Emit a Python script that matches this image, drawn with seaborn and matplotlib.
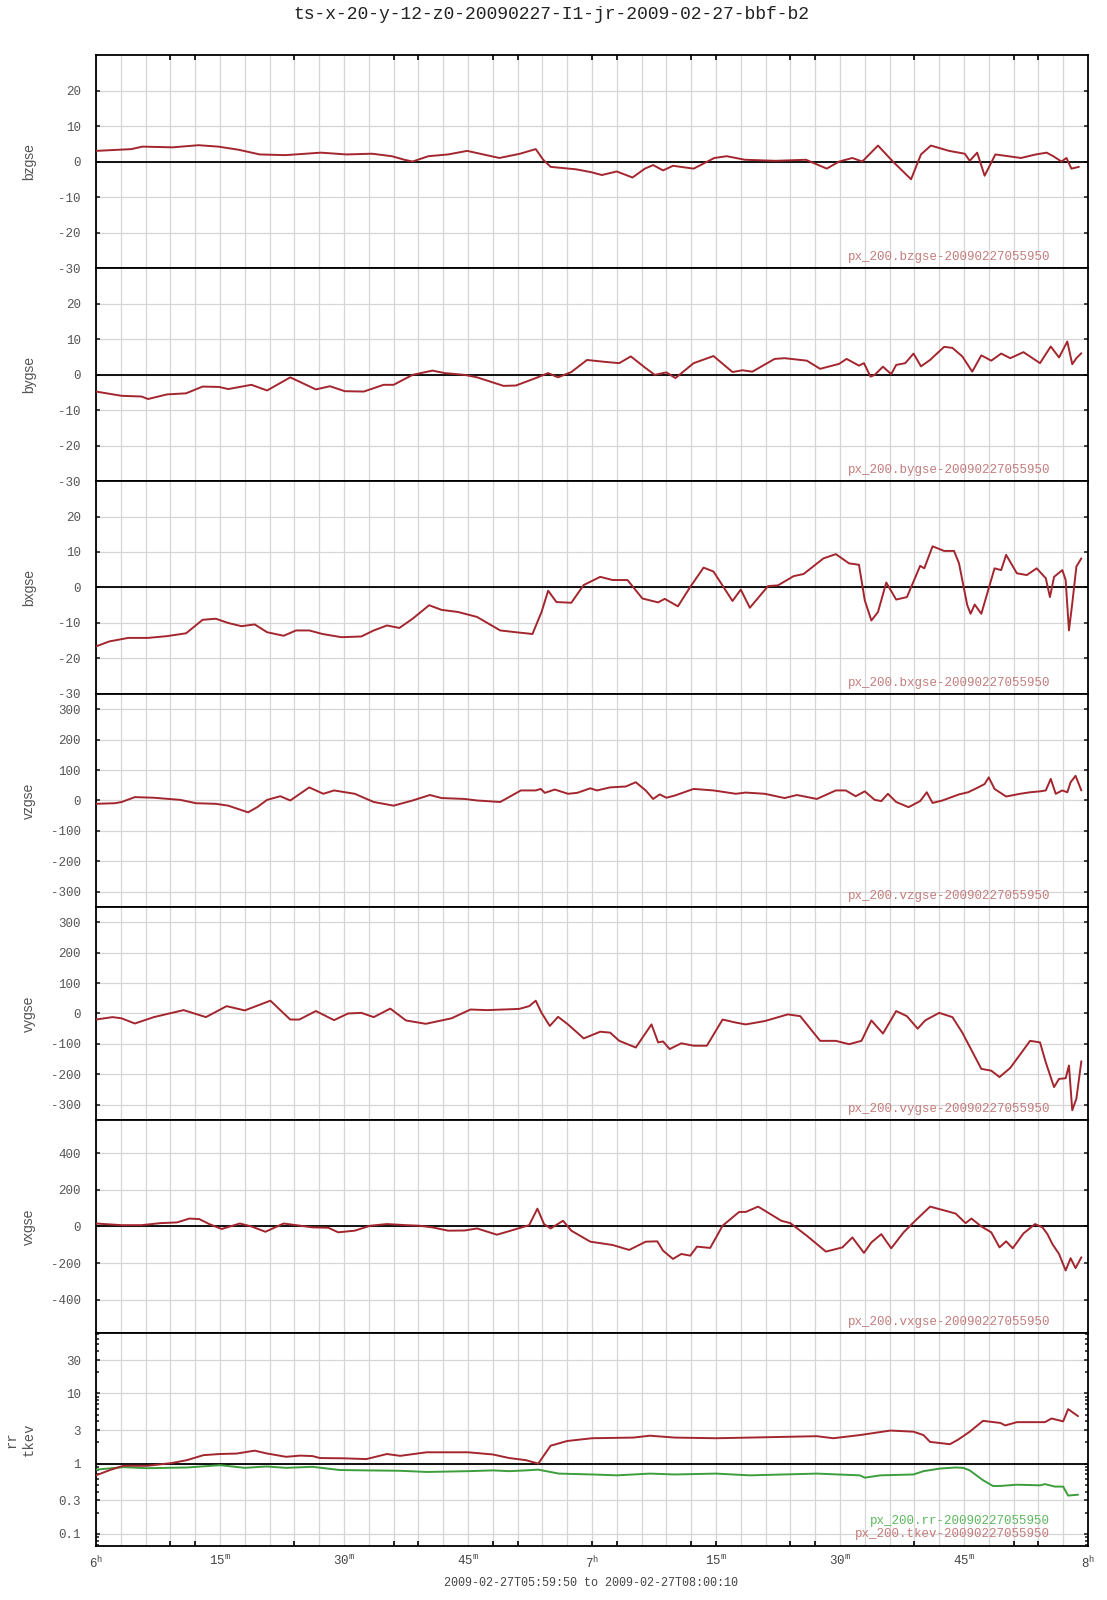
from __future__ import annotations

import matplotlib

matplotlib.use("Agg")
import matplotlib.pyplot as plt
import pandas as pd
import seaborn as sns
from matplotlib.ticker import FixedLocator, LogLocator, MultipleLocator, NullFormatter

# time axis: minutes after 06:00 UT
BZ_T = [0, 4.3, 5.6, 9.3, 12.4, 14.8, 17.3, 19.8, 22.9, 27.2, 30.3, 33.4, 35.8, 37.3, 38.3, 40.2,
        42.6, 44.9, 48.8, 51.3, 53.2, 54.1, 55.0, 58.1, 59.9, 61.2, 63.0, 64.9, 66.4, 67.4, 68.6,
        69.8, 72.3, 74.8, 76.3, 78.5, 82.2, 85.9, 88.4, 89.9, 91.5, 92.7, 94.6, 96.4, 98.6, 99.8,
        101.0, 103.2, 105.1, 105.7, 106.6, 107.5, 108.8, 111.9, 113.7, 115.0, 115.8, 116.8, 117.4,
        118.0, 118.9]
BZ_V = [3.0, 3.5, 4.2, 4.0, 4.6, 4.2, 3.3, 2.0, 1.8, 2.5, 2.0, 2.2, 1.5, 0.5, 0.0, 1.5,
        2.0, 3.0, 1.0, 2.2, 3.5, 0.5, -1.5, -2.2, -3.0, -3.8, -2.8, -4.5, -2.0, -1.0, -2.5,
        -1.2, -2.0, 1.0, 1.5, 0.5, 0.2, 0.5, -2.0, 0.0, 1.0, 0.0, 4.5, 0.0, -5.0, 2.0,
        4.5, 3.0, 2.2, 0.2, 2.5, -4.0, 2.0, 1.0, 2.0, 2.5, 1.5, 0.0, 1.0,
        -2.0, -1.5]

BY_T = [0, 3.1, 5.5, 6.3, 8.6, 10.9, 12.9, 14.9, 16.0, 18.8, 20.7, 23.5, 26.6, 28.3, 30.1,
        32.4, 34.8, 36.0, 38.3, 40.7, 42.2, 44.6, 46.1, 49.3, 50.8, 53.2, 54.7, 55.9, 57.5, 59.4,
        61.4, 63.3, 64.7, 66.5, 67.6, 69.0, 70.1, 72.3, 74.7, 77.0, 78.2, 79.4, 82.1, 83.3, 86.0,
        87.6, 89.9, 90.8, 92.3, 92.9, 93.7, 94.2, 95.2, 96.2, 96.8, 97.9, 98.9, 99.8, 100.9, 102.6,
        103.6, 104.8, 106.0, 107.1, 108.3, 109.5, 110.6, 112.2, 114.2, 115.5, 116.5, 117.5, 118.1,
        118.6, 119.2]
BY_V = [-4.8, -6.0, -6.2, -6.9, -5.6, -5.3, -3.4, -3.5, -4.1, -2.9, -4.5, -0.8, -4.2, -3.3, -4.7,
        -4.8, -2.9, -2.9, -0.1, 1.1, 0.4, -0.1, -0.8, -3.2, -3.1, -1.0, 0.4, -0.8, 0.7, 4.1,
        3.6, 3.2, 5.1, 1.8, -0.1, 0.6, -1.0, 3.2, 5.2, 0.7, 1.2, 0.8, 4.4, 4.6, 3.9,
        1.6, 3.0, 4.4, 2.5, 3.2, -0.6, -0.1, 2.2, 0.1, 2.7, 3.2, 5.9, 2.3, 4.1, 7.8,
        7.5, 5.1, 0.8, 5.4, 3.9, 5.9, 4.6, 6.3, 3.2, 7.9, 4.8, 9.3, 2.9,
        4.6, 6.0]

BX_T = [0, 1.6, 3.9, 6.3, 8.6, 10.9, 12.9, 14.5, 16.0, 17.6, 19.2, 20.7, 22.7, 24.2, 25.8,
        27.4, 29.7, 32.1, 33.6, 35.2, 36.7, 38.3, 40.3, 41.8, 43.8, 46.1, 48.9, 50.8, 52.8, 53.9,
        54.7, 55.7, 57.5, 59.0, 61.0, 62.5, 64.3, 66.1, 68.0, 68.8, 70.4, 71.9, 73.5, 74.7, 77.0,
        78.0, 79.1, 81.3, 82.5, 84.4, 85.6, 88.0, 89.5, 91.1, 92.3, 93.0, 93.8, 94.6, 95.6, 96.8,
        98.1, 99.7, 100.2, 101.2, 102.6, 103.8, 104.4, 105.4, 105.8, 106.3, 107.1, 108.7, 109.5,
        110.1, 111.4, 112.6, 113.8, 114.9, 115.4, 115.9, 116.9, 117.3, 117.7, 118.1, 118.6, 119.2]
BX_V = [-16.6, -15.2, -14.2, -14.2, -13.7, -12.9, -9.1, -8.8, -10.0, -10.9, -10.4, -12.6, -13.6,
        -12.1, -12.1, -13.1, -14.0, -13.8, -12.1, -10.7, -11.4, -8.8, -5.0, -6.3, -6.9, -8.3,
        -12.1, -12.6, -13.1, -6.9, -0.9, -4.1, -4.3, 0.7, 3.0, 2.1, 2.1, -3.1, -4.2, -3.2, -5.3,
        0.2, 5.6, 4.5, -3.8, -0.6, -5.7, 0.4, 0.6, 3.2, 3.8, 8.2, 9.4, 6.8, 6.4, -3.6, -9.3,
        -6.9, 1.4, -3.4, -2.7, 6.1, 5.4, 11.6, 10.3, 10.3, 6.8, -5.0, -7.4, -4.8, -7.4, 5.4,
        4.9, 9.2, 4.0, 3.5, 5.4, 2.6, -2.7, 3.0, 4.9, 2.1, -12.1, -4.5, 5.9, 8.2]

VZ_T = [0, 2.3, 3.1, 4.7, 7.0, 10.2, 12.1, 14.5, 16.0, 18.4, 19.5, 20.7, 22.3, 23.5, 25.8,
        27.5, 28.8, 31.3, 33.6, 36.0, 38.3, 40.4, 41.8, 44.6, 46.1, 48.9, 51.4, 53.2, 53.8, 54.3,
        55.5, 57.1, 58.2, 59.8, 60.6, 62.2, 64.1, 65.3, 66.5, 67.4, 68.2, 69.0, 70.0, 72.3, 74.7,
        77.4, 78.6, 80.9, 83.3, 84.8, 87.2, 89.5, 90.7, 91.9, 93.0, 94.2, 95.0, 95.8, 96.8, 98.3,
        99.7, 100.5, 101.2, 102.4, 104.4, 105.5, 106.5, 107.5, 108.0, 108.7, 110.1, 111.8, 113.0,
        114.2, 114.9, 115.5, 116.1, 116.9, 117.5, 117.9, 118.5, 119.2]
VZ_V = [-11, -9, -5, 11, 9, 2, -9, -11, -17, -39, -22, 2, 14, 0, 43,
        22, 33, 22, -5, -17, 0, 18, 8, 5, 0, -5, 33, 33, 38, 25,
        36, 22, 25, 40, 33, 43, 46, 60, 33, 5, 20, 9, 16, 38, 33,
        22, 26, 22, 8, 18, 5, 33, 33, 14, 30, 2, -2, 22, -5, -22,
        -2, 27, -8, 0, 20, 27, 40, 54, 76, 38, 13, 22, 27,
        30, 33, 71, 22, 33, 27, 60, 81, 33]

VY_T = [0, 2.0, 3.1, 4.7, 7.0, 10.6, 13.3, 15.8, 18.0, 21.1, 23.5, 24.6, 26.6, 28.8, 30.5,
        32.1, 33.6, 35.6, 37.5, 39.9, 43.0, 45.3, 47.3, 51.2, 52.4, 53.2, 53.9, 54.9, 55.9, 57.1,
        59.0, 61.0, 62.2, 63.3, 65.3, 67.2, 68.0, 68.6, 69.4, 70.8, 72.3, 73.9, 75.8, 77.4, 78.6,
        80.9, 83.7, 85.2, 87.6, 89.5, 91.1, 92.6, 93.8, 95.2, 96.8, 98.1, 99.4, 100.3, 102.0,
        103.6, 104.8, 107.1, 108.3, 109.3, 110.6, 113.0, 114.2, 114.9, 115.9, 116.5, 117.3, 117.7,
        118.1, 118.6, 119.2]
VY_V = [-20, -12, -16, -33, -12, 11, -12, 24, 10, 42, -20, -20, 8, -22, 0,
        2, -12, 16, -23, -34, -16, 13, 11, 15, 24, 42, 2, -41, -11, -36,
        -82, -60, -63, -90, -112, -36, -95, -92, -117, -98, -106, -106, -20, -30, -36,
        -25, -3, -9, -90, -90, -101, -90, -23, -66, 8, -9, -50, -23, 2,
        -12, -63, -182, -188, -209, -179, -90, -95, -161, -242, -215, -213, -171,
        -318, -280, -157]

VX_T = [0, 3.1, 5.5, 7.8, 9.8, 11.3, 12.5, 13.7, 15.2, 17.4, 18.8, 20.5, 22.7, 24.2, 26.2,
        28.1, 29.3, 31.3, 33.2, 35.2, 37.5, 39.1, 40.7, 42.6, 44.6, 46.1, 48.5, 50.4, 52.4, 53.4,
        54.2, 55.0, 56.5, 57.5, 59.8, 62.5, 64.5, 66.5, 67.9, 68.6, 69.8, 70.8, 71.9, 72.7, 74.3,
        75.8, 77.8, 78.6, 80.1, 82.9, 84.0, 86.0, 88.3, 90.3, 91.5, 92.9, 93.8, 95.0, 96.2, 97.7,
        99.1, 100.9, 102.8, 104.0, 105.2, 105.9, 107.1, 108.3, 109.3, 110.1, 110.9, 112.2, 113.6,
        114.5, 115.1, 115.7, 116.5, 117.3, 117.9, 118.5, 119.2]
VX_V = [16, 7, 7, 18, 22, 43, 40, 13, -14, 16, 0, -29, 16, 7, -5,
        -7, -32, -23, 4, 13, 7, 4, -5, -23, -22, -11, -45, -20, 7, 97,
        13, -11, 31, -23, -83, -101, -128, -83, -81, -132, -177, -150, -159, -110, -117,
        4, 79, 79, 108, 31, 18, -51, -137, -114, -60, -144, -87, -42, -119, -32,
        31, 108, 85, 70, 18, 43, 0, -32, -114, -81, -119, -38, 13,
        -5, -42, -96, -150, -240, -173, -227, -168]

TK_T = [0, 1.7, 3.3, 6.2, 9.2, 11.0, 13.0, 15.0, 17.0, 19.2, 20.6, 23.0, 24.7, 26.2, 27.1,
        29.9, 32.7, 35.2, 36.8, 40, 45, 48, 50, 52, 53.5, 55, 57, 60, 65, 67,
        70, 75, 79.1, 87.2, 89.2, 92.4, 96.1, 98.9, 100.1, 100.9, 103.3, 104.3, 105.7, 107.3,
        109.4, 110.0, 111.4, 114.8, 115.6, 117.0, 117.6, 118.8]
TK_V = [0.68, 0.81, 0.93, 0.93, 1.02, 1.12, 1.32, 1.37, 1.39, 1.53, 1.40, 1.25, 1.30, 1.28, 1.20,
        1.19, 1.16, 1.37, 1.29, 1.45, 1.45, 1.35, 1.2, 1.12, 1.0, 1.8, 2.1, 2.3, 2.35, 2.5,
        2.35, 2.3, 2.35, 2.46, 2.3, 2.55, 2.96, 2.85, 2.55, 2.04, 1.89, 2.2, 2.85, 4.07,
        3.8, 3.5, 3.9, 3.9, 4.4, 4.0, 5.98, 4.75]

RR_T = [0, 3.3, 6.2, 11.0, 15.0, 18.0, 20.6, 23.0, 26.2, 29.5, 32.7, 36.8, 40, 45, 48,
        50, 52, 53.5, 56, 60, 63, 67, 70, 75, 79.1, 87.2, 92.4, 93.0, 94.9, 98.9,
        100.1, 102.1, 104.0, 104.9, 105.7, 107.3, 108.5, 109.4, 111.4, 114.2, 114.8, 116.0,
        117.0, 117.6, 118.8]
RR_V = [0.82, 0.89, 0.86, 0.88, 0.95, 0.87, 0.91, 0.87, 0.90, 0.81, 0.80, 0.79, 0.76, 0.78, 0.80,
        0.78, 0.80, 0.82, 0.72, 0.70, 0.68, 0.72, 0.70, 0.72, 0.68, 0.72, 0.68, 0.63, 0.68, 0.70,
        0.78, 0.85, 0.88, 0.87, 0.80, 0.58, 0.48, 0.48, 0.50, 0.49, 0.51, 0.47,
        0.47, 0.35, 0.36]

# tick marks along the top / bottom frame (minutes after 06:00)
FRAME_MARKS = [9, 12, 24, 36, 39, 48, 51, 60, 63, 72, 75, 84, 87, 99, 111, 114]

X_TICKS = [0, 15, 30, 45, 60, 75, 90, 105, 120]
X_LABELS = ["6$^{h}$", "15$^{m}$", "30$^{m}$", "45$^{m}$", "7$^{h}$",
            "15$^{m}$", "30$^{m}$", "45$^{m}$", "8$^{h}$"]

B_TICKS = [-30, -20, -10, 0, 10, 20]
V_TICKS = [-300, -200, -100, 0, 100, 200, 300]
VX_TICKS = [-400, -200, 0, 200, 400]
LOG_TICKS = [0.1, 0.3, 1, 3, 10, 30]
LOG_LABELS = ["0.1", "0.3", "1", "3", "10", "30"]

TITLE = "ts-x-20-y-12-z0-20090227-I1-jr-2009-02-27-bbf-b2"
FOOTER = "2009-02-27T05:59:50 to 2009-02-27T08:00:10"
SUFFIX = "-20090227055950"

RED = "#a3262e"
GREEN = "#3c9e3c"
RED_TXT = "#c47c7c"
GREEN_TXT = "#5cb85c"
GRID = "#d6d6d6"
MONO = "Liberation Mono"
SANS = "Liberation Sans"
LABEL_X = -0.0605


def style_axis(ax: plt.Axes, yticks, ylim) -> None:
    """Frame, grid and ticks shared by all panels."""

    ax.set_xlim(0, 120)
    ax.set_ylim(*ylim)
    ax.xaxis.set_major_locator(FixedLocator(X_TICKS))
    ax.xaxis.set_minor_locator(MultipleLocator(3))
    ax.yaxis.set_major_locator(FixedLocator(yticks))
    ax.grid(which="both", axis="x", color=GRID, lw=0.9)
    ax.grid(which="major", axis="y", color=GRID, lw=0.9)
    ax.set_axisbelow(True)
    ax.tick_params(axis="x", which="both", length=0, labelbottom=False)
    ax.tick_params(axis="y", which="major", direction="in", length=3, width=1.2,
                   left=True, right=True, labelsize=9, labelcolor="#555555", pad=11)
    for sp in ax.spines.values():
        sp.set_color("black")
        sp.set_linewidth(1.3)
        sp.set_visible(True)


def draw_series(ax: plt.Axes, t, v, color: str) -> None:
    df = pd.DataFrame({"t": t, "v": v})
    sns.lineplot(data=df, x="t", y="v", ax=ax, color=color, lw=1.4,
                 estimator=None, sort=False, zorder=3)


def main() -> None:
    sns.set_theme(style="white")
    plt.rcParams["font.family"] = [MONO, "DejaVu Sans"]
    plt.rcParams["mathtext.fontset"] = "custom"
    plt.rcParams["mathtext.rm"] = MONO
    plt.rcParams["mathtext.it"] = MONO

    fig, axes = plt.subplots(7, 1, figsize=(11.07, 16), dpi=100, sharex=True,
                             gridspec_kw=dict(hspace=0))
    fig.subplots_adjust(left=0.0867, right=0.9828, top=0.9656, bottom=0.0338)

    panels = [
        ("bzgse", BZ_T, BZ_V, B_TICKS, (-30, 30), True),
        ("bygse", BY_T, BY_V, B_TICKS, (-30, 30), True),
        ("bxgse", BX_T, BX_V, B_TICKS, (-30, 30), True),
        ("vzgse", VZ_T, VZ_V, V_TICKS, (-350, 350), False),
        ("vygse", VY_T, VY_V, V_TICKS, (-350, 350), False),
        ("vxgse", VX_T, VX_V, VX_TICKS, (-580, 580), True),
    ]
    for ax, (name, t, v, yticks, ylim, zero) in zip(axes[:6], panels):
        style_axis(ax, yticks, ylim)
        ax.set_yticklabels([str(y) for y in yticks], family=MONO)
        if zero:
            ax.axhline(0, color="black", lw=1.3, zorder=2)
        draw_series(ax, t, v, RED)
        ax.set_xlabel("")
        ax.set_ylabel(name, family=SANS, fontsize=10, color="#555555")
        ax.yaxis.set_label_coords(LABEL_X, 0.5)
        ax.text(0.9617, 0.053, f"px_200.{name}{SUFFIX}", transform=ax.transAxes,
                ha="right", va="center", fontsize=9, family=MONO, color=RED_TXT)

    # bottom panel: rr and tkev on a log scale
    ax = axes[6]
    ax.set_yscale("log")
    style_axis(ax, LOG_TICKS, (0.067, 73))
    ax.yaxis.set_minor_locator(LogLocator(base=10, subs=range(2, 10)))
    ax.yaxis.set_minor_formatter(NullFormatter())
    ax.tick_params(axis="y", which="minor", direction="in", length=2, width=1.2,
                   left=True, right=True)
    ax.set_yticklabels(LOG_LABELS, family=MONO)
    ax.axhline(1, color="black", lw=1.3, zorder=2)
    draw_series(ax, RR_T, RR_V, GREEN)
    draw_series(ax, TK_T, TK_V, RED)
    ax.set_ylabel("rr\ntkev", family=MONO, fontsize=10, color="#555555", linespacing=1.3)
    ax.yaxis.set_label_coords(LABEL_X, 0.5)
    ax.text(0.9617, 0.117, f"px_200.rr{SUFFIX}", transform=ax.transAxes,
            ha="right", va="center", fontsize=9, family=MONO, color=GREEN_TXT)
    ax.text(0.9617, 0.055, f"px_200.tkev{SUFFIX}", transform=ax.transAxes,
            ha="right", va="center", fontsize=9, family=MONO, color=RED_TXT)

    ax.tick_params(axis="x", which="major", labelbottom=True, labelsize=9,
                   labelcolor="#444444", pad=6)
    ax.set_xticklabels(X_LABELS)
    ax.set_xlabel("")

    # frame tick marks on the very top and very bottom
    axes[0].vlines(FRAME_MARKS, 0.975, 1.0, transform=axes[0].get_xaxis_transform(),
                   color="black", lw=1.2, zorder=4)
    ax.vlines(FRAME_MARKS, 0.0, 0.025, transform=ax.get_xaxis_transform(),
              color="black", lw=1.2, zorder=4)

    fig.text(0.498, 0.991, TITLE, ha="center", va="center", fontsize=13,
             family=MONO, color="#222222")
    fig.text(0.534, 1 - 1583 / 1600, FOOTER, ha="center", va="center", fontsize=8.5,
             family=MONO, color="#444444")

    fig.savefig("out.png", dpi=100)
    plt.close(fig)


if __name__ == "__main__":
    main()
